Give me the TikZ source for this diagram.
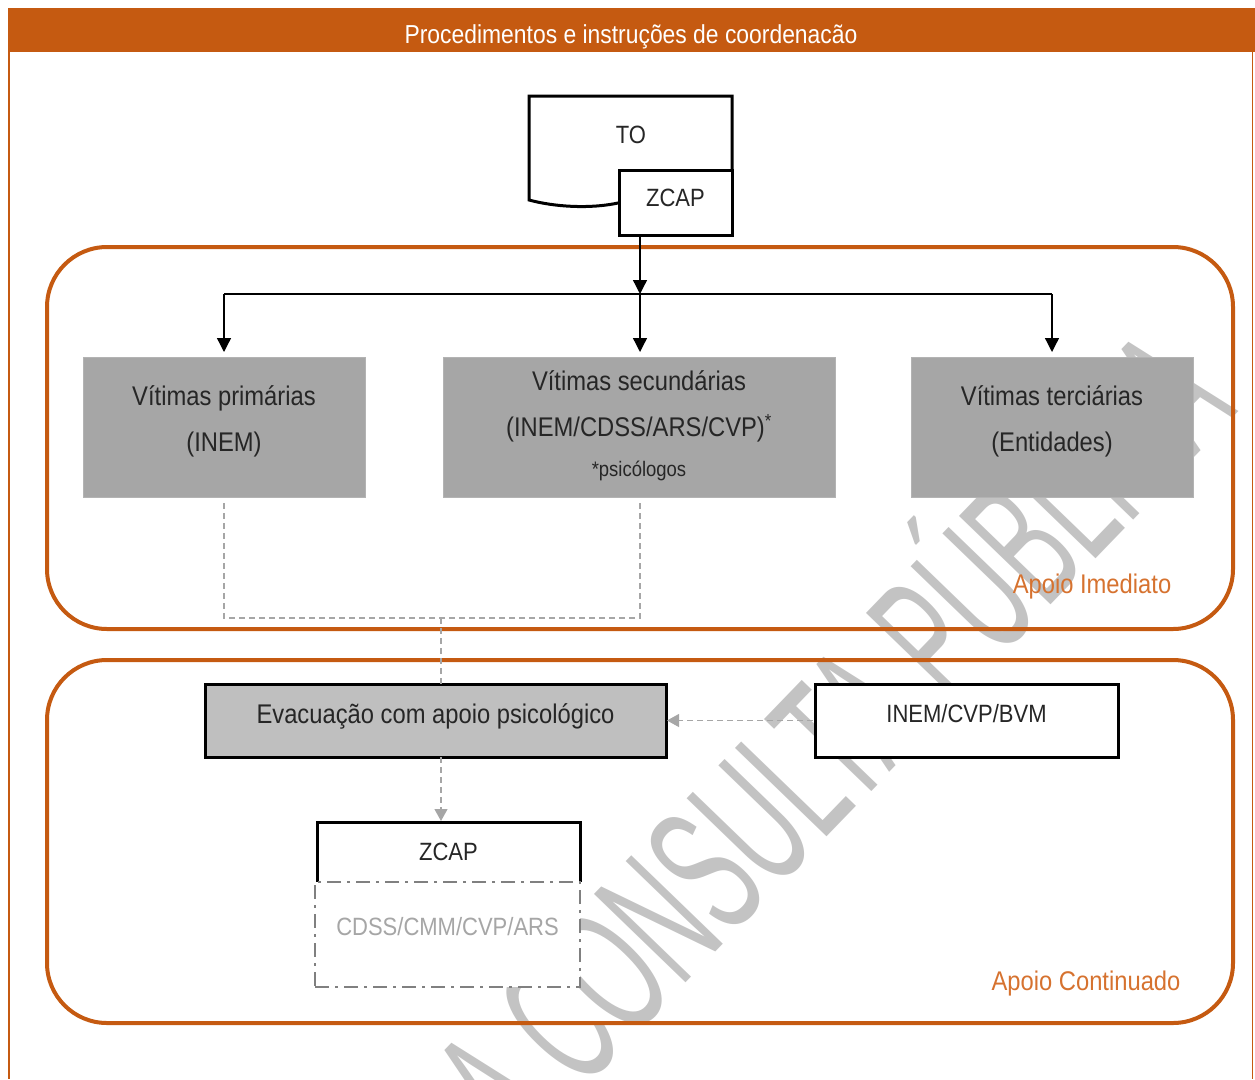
\documentclass[tikz,border=0pt]{standalone}
\usepackage{fontspec}
\setmainfont{Liberation Sans}[FakeStretch=0.88]
\newfontfamily\wmfont{Liberation Sans}[FakeStretch=0.52]
\usetikzlibrary{arrows.meta}

\definecolor{orng}{HTML}{C55A11}
\definecolor{orngtxt}{HTML}{D6722F}
\definecolor{txt}{HTML}{262626}
\definecolor{boxgrey}{HTML}{A6A6A6}
\definecolor{evacgrey}{HTML}{BFBFBF}
\definecolor{dashgrey}{HTML}{A6A6A6}
\definecolor{dotgrey}{HTML}{808080}
\definecolor{wmgrey}{HTML}{C3C3C3}

\begin{document}
\begin{tikzpicture}[x=1pt,y=-1pt,
  every node/.style={inner sep=0pt, outer sep=0pt},
  mixtxt/.style={font=\fontsize{27}{46}\selectfont, text=txt, align=center},
  capstxt/.style={font=\fontsize{25}{30}\selectfont, text=txt},
  victim/.style={fill=boxgrey, draw=boxgrey!85!white, line width=0.8pt,
                 minimum height=140pt, mixtxt, text depth=16pt},
  thickbox/.style={draw=black, line width=3pt},
  region/.style={draw=orng, line width=4pt, rounded corners=60pt},
  regionlbl/.style={font=\fontsize{27}{32}\selectfont, text=orngtxt},
  conn/.style={draw=black, line width=1.3pt},
  connarrow/.style={conn, -{Triangle[width=14pt,length=14pt]}},
  dashline/.style={draw=dashgrey, line width=1.1pt, dash pattern=on 6pt off 4pt},
  dasharrow/.style={dashline, -{Triangle[width=13pt,length=12pt]}, shorten >=1pt},
]
\useasboundingbox (0,0) rectangle (1255,1079);

% watermark, kept behind the diagram
\begin{scope}
  \clip (0,0) rectangle (1255,1079);
  \node[rotate=46, anchor=base, text=wmgrey, font=\wmfont\fontsize{185}{190}\selectfont]
    (wm) at (812,853) {PARA CONSULTA PÚBLICA};
\end{scope}

% header bar and page frame
\fill[orng] (8,8) rectangle (1255,52);
\node[text=white, font=\fontsize{26}{30}\selectfont] (title) at (631,37)
  {Procedimentos e instruções de coordenacão};
\draw[orng, line width=1.5pt] (8.75,52) -- (8.75,1079);
\draw[orng, line width=1.5pt] (1252.5,52) -- (1252.5,1079);

% the two support regions
\draw[region] (47,247) rectangle (1233,629);
\draw[region] (47,660) rectangle (1233,1023);
\node[regionlbl] (imediato) at (1092,587) {Apoio Imediato};
\node[regionlbl] (continuado) at (1086,984) {Apoio Continuado};

% TO document with its ZCAP tab
\draw[thickbox, fill=white] (529,96) -- (732,96) -- (732,185)
  .. controls (690,180) and (650,195) .. (618,203)
  .. controls (590,209) and (555,207) .. (529,200) -- cycle;
\node[capstxt] (to) at (631,135) {TO};
\node[thickbox, fill=white, capstxt, minimum width=113pt, minimum height=65pt,
      text depth=10pt] (zcap1) at (675.5,202.5) {ZCAP};

% victim categories
\node[victim, minimum width=282pt] (prim) at (224,427)
  {Vítimas primárias\\(INEM)};
\node[victim, minimum width=392pt, text depth=6pt] (sec) at (639,427)
  {Vítimas secundárias\\(INEM/CDSS/ARS/CVP)\textsuperscript{*}\\[-6pt]
   {\fontsize{21}{24}\selectfont *psicólogos}};
\node[victim, minimum width=282pt] (ter) at (1052,427)
  {Vítimas terciárias\\(Entidades)};

% distribution from the ZCAP
\coordinate (j) at (640,294);
\draw[connarrow] (j |- zcap1.south) -- (j);
\draw[conn] (prim.north |- j) -- (ter.north |- j);
\draw[connarrow] (prim.north |- j) -- ([yshift=5pt]prim.north);
\draw[connarrow] (j) -- ([yshift=5pt]sec.north -| j);
\draw[connarrow] (ter.north |- j) -- ([yshift=5pt]ter.north);

% continued support
\node[thickbox, fill=evacgrey, mixtxt, minimum width=461pt, minimum height=73pt,
      text depth=14pt] (evac) at (435.5,720.5) {Evacuação com apoio psicológico};
\node[thickbox, fill=white, capstxt, minimum width=303pt, minimum height=73pt,
      text depth=15pt] (inem) at (966.5,720.5) {INEM/CVP/BVM};

\node[capstxt, minimum width=263pt, minimum height=60pt] (zcap2) at (448.5,852) {ZCAP};
\draw[thickbox] (zcap2.south west) -- (zcap2.north west) -- (zcap2.north east)
  -- (zcap2.south east);
\node[draw=dotgrey, fill=white, line width=2.5pt,
      dash pattern=on 14pt off 6pt on 3pt off 6pt,
      minimum width=265pt, minimum height=105pt, text depth=17pt,
      font=\fontsize{25}{30}\selectfont, text=dashgrey]
  (cdss) at (447.5,934.5) {CDSS/CMM/CVP/ARS};

% dashed links
\coordinate (jd) at (441,618);
\draw[dashline] ([yshift=-6pt]prim.south) |- (jd);
\draw[dashline] ([yshift=-6pt]sec.south -| j) |- (jd);
\draw[dashline] (jd) -- (jd |- evac.north);
\draw[dasharrow] ([xshift=-2pt]inem.west) -- (evac.east);
\draw[dasharrow] (jd |- evac.south) -- (jd |- zcap2.north);
\end{tikzpicture}
\end{document}
